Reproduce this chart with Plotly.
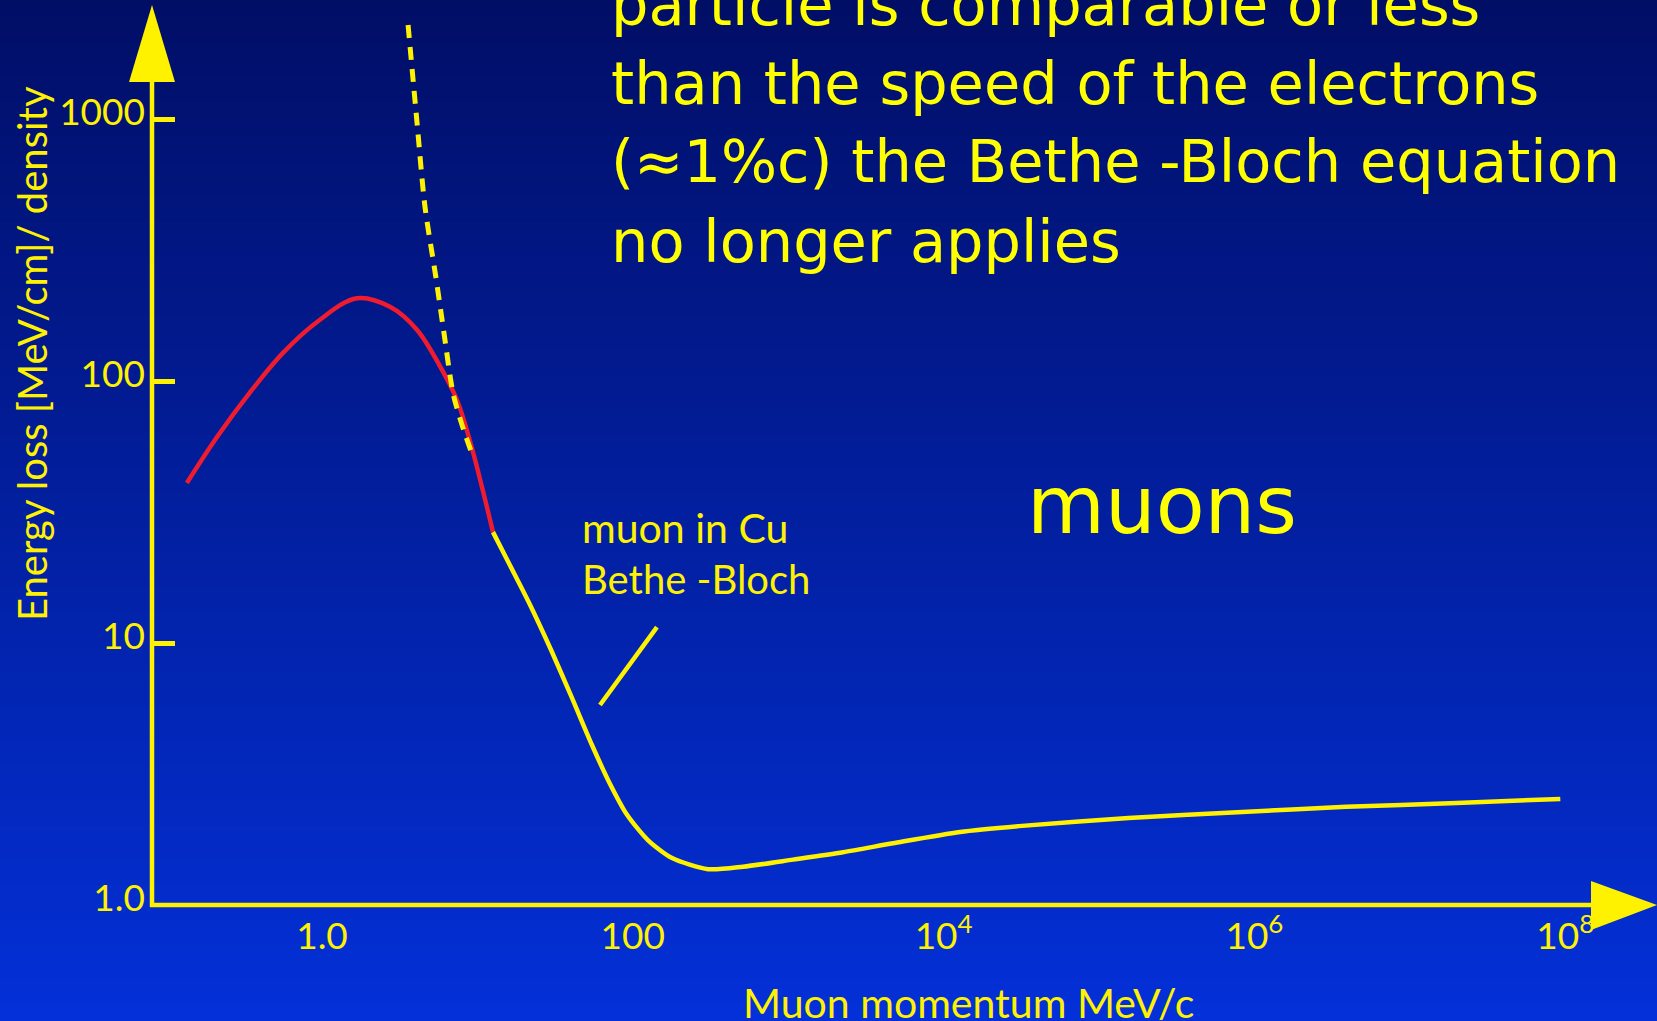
import numpy as np
import plotly.graph_objects as go

# ---------------- data ----------------
# low-momentum part of the curve (red)
red_p = [0.135, 0.211, 0.344, 0.561, 0.929, 1.68, 2.74, 4.08, 5.74, 7.39, 9.10, 10.7, 12.6]
red_e = [40.8, 61.1, 90.5, 128, 168, 207, 192, 157, 114, 84.6, 57.0, 39.4, 26.5]

# Bethe-Bloch part of the curve (yellow)
bb_p = [12.6, 16.2, 21.8, 29.8, 40.6, 54.6, 70.3, 91.8, 125, 179, 305, 512, 1074, 2253, 4725, 12760,
        30500, 155000, 776000, 3.9e6, 2.0e7, 9.3e7]
bb_e = [26.5, 19.8, 14.0, 9.40, 6.17, 4.08, 2.95, 2.21, 1.77, 1.51, 1.37, 1.40, 1.49, 1.59, 1.72, 1.90,
        2.0, 2.15, 2.26, 2.37, 2.45, 2.54]

# dashed extrapolation of Bethe-Bloch to low momentum
dash_p = [3.58, 4.09, 4.60, 5.40, 6.10, 6.97, 7.96, 9.2]
dash_e = [2285, 966, 462, 250, 152, 90, 68, 53]

# label pointer line
pointer_p = [61.5, 143]
pointer_e = [5.8, 11.5]

x_tickvals = [1, 100, 1e4, 1e6, 1e8]
x_ticktext = ["1.0", "100", "10<sup>4</sup>", "10<sup>6</sup>", "10<sup>8</sup>"]
y_tickvals = [1, 10, 100, 1000]
y_ticktext = ["1.0", "10", "100", "1000"]

para_lines = [
    "particle is comparable or less",
    "than the speed of the electrons",
    "(\u22481%c) the Bethe -Bloch equation",
    "no longer applies",
]

# ---------------- layout geometry ----------------
W, H = 1657, 1021
ML, MR, MT, MB = 152, 0, 0, 116
PW, PH = W - ML - MR, H - MT - MB


def px(x):  # pixel -> paper x
    return (x - ML) / PW


def py(y):  # pixel -> paper y
    return (H - MB - y) / PH


YEL = "#FFF200"
YEL2 = "#FFFF00"
RED = "#EE1C2E"
TICKFONT = "Lato"
COMIC = "DejaVu Sans"

fig = go.Figure()

fig.add_trace(go.Scatter(x=red_p, y=red_e, mode="lines",
                         line=dict(color=RED, width=4.5, shape="spline", smoothing=1.0),
                         hoverinfo="skip", showlegend=False))
fig.add_trace(go.Scatter(x=bb_p, y=bb_e, mode="lines",
                         line=dict(color=YEL, width=4.5, shape="spline", smoothing=0.7),
                         hoverinfo="skip", showlegend=False))
fig.add_trace(go.Scatter(x=dash_p, y=dash_e, mode="lines",
                         line=dict(color=YEL, width=5, dash="13px,9px", shape="spline", smoothing=0.8),
                         hoverinfo="skip", showlegend=False))
fig.add_trace(go.Scatter(x=pointer_p, y=pointer_e, mode="lines", line=dict(color=YEL, width=4.5),
                         hoverinfo="skip", showlegend=False))

shapes = []
# background gradient
top = np.array([1, 14, 102])
bot = np.array([3, 48, 216])
N = 120
for i in range(N):
    t0 = i / N
    t1 = (i + 1) / N
    c = top + (bot - top) * (t0 + 0.5 / N)
    shapes.append(dict(type="rect", xref="paper", yref="paper", layer="below",
                       x0=px(-5), x1=px(W + 5), y0=py(H * t0 - 0.5), y1=py(H * t1 + 0.5),
                       line=dict(width=0),
                       fillcolor="rgb(%d,%d,%d)" % tuple(np.round(c).astype(int))))

# axis lines
shapes.append(dict(type="line", xref="paper", yref="paper", x0=px(152), x1=px(152),
                   y0=py(907), y1=py(80), line=dict(color=YEL, width=4.5)))
shapes.append(dict(type="line", xref="paper", yref="paper", x0=px(150), x1=px(1595),
                   y0=py(905), y1=py(905), line=dict(color=YEL, width=4.5)))
# arrow heads
shapes.append(dict(type="path", xref="paper", yref="paper",
                   path="M %f %f L %f %f L %f %f Z" % (px(152), py(5), px(129), py(82), px(175), py(82)),
                   fillcolor=YEL, line=dict(color=YEL, width=0)))
shapes.append(dict(type="path", xref="paper", yref="paper",
                   path="M %f %f L %f %f L %f %f Z" % (px(1657), py(905), px(1591), py(881), px(1591), py(930)),
                   fillcolor=YEL, line=dict(color=YEL, width=0)))

annotations = []
# paragraph text
for i, (line, yc) in enumerate(zip(para_lines, [5, 83, 161, 241])):
    annotations.append(dict(text=line, xref="paper", yref="paper", x=px(609), y=py(yc),
                            xanchor="left", yanchor="middle", showarrow=False,
                            font=dict(family=COMIC, size=59, color=YEL2)))
annotations.append(dict(text="muons", xref="paper", yref="paper", x=px(1162), y=py(505),
                        xanchor="center", yanchor="middle", showarrow=False,
                        font=dict(family=COMIC, size=80, color=YEL2)))
annotations.append(dict(text="muon in Cu", xref="paper", yref="paper", x=px(580), y=py(527),
                        xanchor="left", yanchor="middle", showarrow=False,
                        font=dict(family=TICKFONT, size=41, color=YEL)))
annotations.append(dict(text="Bethe -Bloch", xref="paper", yref="paper", x=px(580), y=py(579),
                        xanchor="left", yanchor="middle", showarrow=False,
                        font=dict(family=TICKFONT, size=40, color=YEL)))
annotations.append(dict(text="Energy loss [MeV/cm]/ density", xref="paper", yref="paper",
                        x=px(32), y=py(354), xanchor="center", yanchor="middle", textangle=-90,
                        showarrow=False, font=dict(family=TICKFONT, size=40, color=YEL)))
annotations.append(dict(text="Muon momentum MeV/c", xref="paper", yref="paper",
                        x=px(969), y=py(1003), xanchor="center", yanchor="middle",
                        showarrow=False, font=dict(family=TICKFONT, size=41, color=YEL)))

fig.update_layout(
    width=W, height=H,
    margin=dict(l=ML, r=MR, t=MT, b=MB, pad=0),
    paper_bgcolor="rgb(2,31,159)", plot_bgcolor="rgba(0,0,0,0)",
    shapes=shapes, annotations=annotations, showlegend=False,
    xaxis=dict(type="log", range=[(ML - 322) / 155.4, (W - 322) / 155.4],
               tickvals=x_tickvals, ticktext=x_ticktext, showgrid=False, zeroline=False,
               showline=False, ticks="", ticklabelstandoff=6,
               tickfont=dict(family=TICKFONT, size=37, color=YEL)),
    yaxis=dict(type="log", range=[0, (H - MB) / 262.0],
               tickvals=y_tickvals, ticktext=y_ticktext, showgrid=False, zeroline=False,
               showline=False, ticks="inside", ticklen=23, tickwidth=4.5, tickcolor=YEL,
               ticklabelstandoff=6, ticklabelshift=-7,
               tickfont=dict(family=TICKFONT, size=37, color=YEL)),
)

fig.write_html("out.html", config={"displayModeBar": False},
               post_script="document.body.style.margin='0';document.body.style.overflow='hidden';")
